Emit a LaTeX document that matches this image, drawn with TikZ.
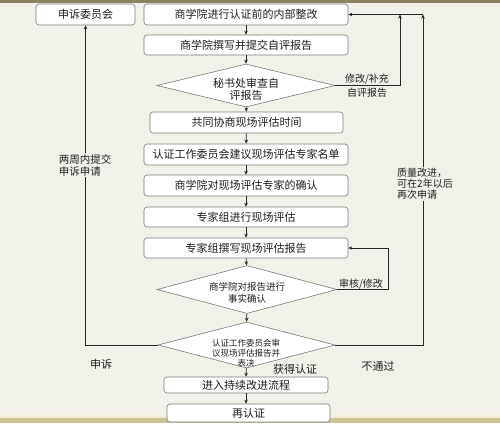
\documentclass[tikz,border=0pt]{standalone}
\usepackage{fontspec}
\setmainfont{Noto Sans CJK SC}
\usetikzlibrary{shapes.geometric,arrows.meta,calc}
\definecolor{bgc}{HTML}{F1F0E9}
\definecolor{topband}{HTML}{8C8262}
\definecolor{botband}{HTML}{CBC497}
\definecolor{botline}{HTML}{F6ECD6}
\definecolor{txt}{HTML}{1E1E1E}
\definecolor{edge}{HTML}{7A7A7A}
\begin{document}
\begin{tikzpicture}[x=1pt,y=-1pt,
  box/.style={draw=edge, fill=white, rounded corners=3pt, line width=0.6pt, inner sep=0pt,
    font=\fontsize{11}{13}\selectfont, text=txt},
  dia/.style={draw=edge, fill=white, diamond, inner sep=0pt, line width=0.6pt},
  dtext/.style={align=center, text=txt, inner sep=0pt},
  arr/.style={-{Stealth[length=4pt,width=3.5pt]}, line width=0.7pt, draw=black!85},
  lbl/.style={text=txt, inner sep=1pt, font=\fontsize{10.5}{12}\selectfont}]
% background
\useasboundingbox (0,0) rectangle (500,423);
\fill[bgc] (0,0) rectangle (500,423);
\fill[topband] (0,0) rectangle (500,3);
\fill[botline] (0,415) rectangle (500,417.5);
\fill[botband] (0,417.5) rectangle (500,423);

% boxes
\node[box, minimum width=99pt, minimum height=21pt] (b0) at (85.5,14.5) {申诉委员会};
\node[box, minimum width=204pt, minimum height=21pt] (b1) at (246,14.5) {商学院进行认证前的内部整改};
\node[box, minimum width=204pt, minimum height=20pt] (b2) at (246,45) {商学院撰写并提交自评报告};
\node[dia, minimum width=178pt, minimum height=43pt] (d1) at (246,85.5) {};
\node[dtext, font=\fontsize{11}{12.5}\selectfont] (d1t) at (246,89.5) {秘书处审查自\\评报告};
\node[box, minimum width=193pt, minimum height=21pt] (b3) at (246.5,122.5) {共同协商现场评估时间};
\node[box, minimum width=204pt, minimum height=21pt] (b4) at (246,154.5) {认证工作委员会建议现场评估专家名单};
\node[box, minimum width=204pt, minimum height=21pt] (b5) at (246,185.5) {商学院对现场评估专家的确认};
\node[box, minimum width=204pt, minimum height=20pt] (b6) at (246,217) {专家组进行现场评估};
\node[box, minimum width=204pt, minimum height=20pt] (b7) at (246,248) {专家组撰写现场评估报告};
\node[dia, minimum width=180pt, minimum height=48pt] (d2) at (247,289.5) {};
\node[dtext, font=\fontsize{9.5}{12}\selectfont] (d2t) at (247,293) {商学院对报告进行\\事实确认};
\node[dia, minimum width=177pt, minimum height=46pt] (d3) at (246.5,345) {};
\node[dtext, font=\fontsize{8.5}{10}\selectfont] (d3t) at (246,353) {认证工作委员会审\\议现场评估报告并\\表决};
\node[box, minimum width=164pt, minimum height=16pt] (b8) at (246,385) {进入持续改进流程};
\node[box, minimum width=163pt, minimum height=18pt] (b9) at (248.5,413) {再认证};

% main flow
\draw[arr] (b1) -- (b2);
\draw[arr] (b2) -- (d1);
\draw[arr] (d1) -- (b3);
\draw[arr] (b3) -- (b4);
\draw[arr] (b4) -- (b5);
\draw[arr] (b5) -- (b6);
\draw[arr] (b6) -- (b7);
\draw[arr] (b7) -- (d2);
\draw[arr] (d2) -- (d3);
\draw[arr] (d3) -- (b8);
\draw[arr] (b8.south -| b9.north) ++(-2.5,0) coordinate (s8) -- (s8 |- b9.north);

% feedback on the right
\coordinate (c1) at (400,14.5);
\coordinate (c2) at (423,14.5);
\coordinate (c3) at (388,248);
\draw[arr] (c2) -- (b1.east);
\draw[arr] (d1.east) -| (c1);
\draw[arr] (d3.east) -| (c2);
\draw[arr] (d2.east) -| (c3) -- (b7.east);

% appeal on the left
\draw[arr] (d3.west) -| (b0.south);

% labels
\node[lbl, align=center, font=\fontsize{10}{14}\selectfont] (l1) at (367,85.5) {修改/补充\\自评报告};
\node[lbl, anchor=south, font=\fontsize{10}{12}\selectfont] (l2) at (361,290.5) {审核/修改};
\node[lbl, align=left, fill=bgc] (l3) at (85,165) {两周内提交\\申诉申请};
\node[lbl, align=left, anchor=west, fill=bgc, font=\fontsize{10}{11}\selectfont] (l4) at (396,184) {质量改进，\\可在2年以后\\再次申请};
\node[lbl, font=\fontsize{11}{13}\selectfont] (l5) at (378,366) {不通过};
\node[lbl, font=\fontsize{11}{13}\selectfont] (l6) at (101,364) {申诉};
\node[lbl, font=\fontsize{11}{13}\selectfont] (l7) at (295,369) {获得认证};
\end{tikzpicture}
\end{document}
